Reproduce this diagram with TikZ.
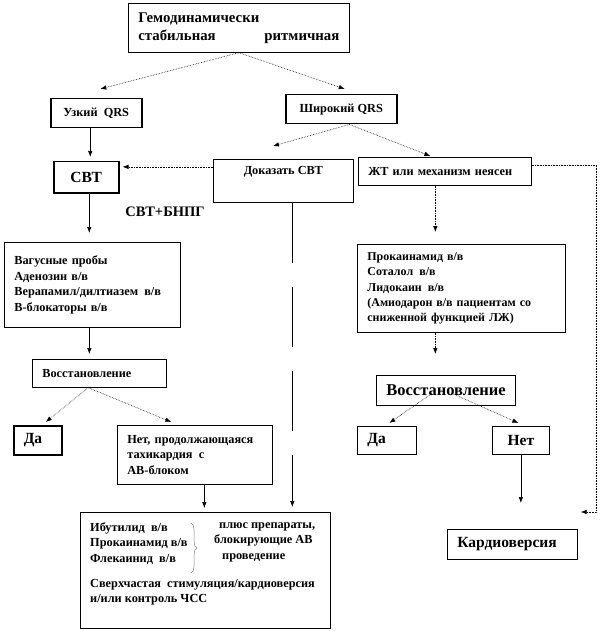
\documentclass[tikz,border=0pt]{standalone}
\usepackage{fontspec}
\setmainfont{Liberation Serif}
\usetikzlibrary{arrows.meta,decorations.pathreplacing}
\newcommand\smallsz{\fontsize{12.3}{15.5}\selectfont}
\newcommand\bigsz{\fontsize{15.5}{18}\selectfont}
\begin{document}
\begin{tikzpicture}[x=1pt, y=-1pt,
    every node/.style={font=\bfseries\smallsz, inner sep=0pt},
    box/.style={draw, line width=0.7pt, anchor=north west, align=left, inner xsep=10pt},
    thickbox/.style={box, line width=1.5pt},
    link/.style={-{Latex[length=6pt,width=4.5pt]}, line width=0.6pt},
    dotlink/.style={link, densely dotted}]
  \useasboundingbox (0,0) rectangle (599,631);
  % top of the chart
  \node[box, minimum width=221pt, minimum height=49pt, text width=201pt,
    font=\bfseries\fontsize{14.8}{18}\selectfont]
    (top) at (128,3) {Гемодинамически\\стабильная\hfill ритмичная};
  \node[thickbox, minimum width=91pt, minimum height=29pt, align=center]
    (narrow) at (50,98) {Узкий\enspace QRS};
  \node[thickbox, minimum width=111pt, minimum height=29pt, align=center]
    (wide) at (285,94) {Широкий QRS};
  % narrow QRS branch
  \node[thickbox, minimum width=65pt, minimum height=31pt, align=center,
    font=\bfseries\bigsz] (svt) at (53,161) {СВТ};
  \node[font=\bfseries\fontsize{14.5}{16}\selectfont] (svtbb) at (165,212) {СВТ+БНПГ};
  \node[box, minimum width=176pt, minimum height=85pt, text width=156pt]
    (vagal) at (4,242) {Вагусные пробы\\Аденозин в/в\\Верапамил/дилтиазем\enspace в/в\\B-блокаторы в/в\\[4pt]};
  \node[box, minimum width=134pt, minimum height=28pt, text width=114pt]
    (rec1) at (32,359) {Восстановление};
  \node[thickbox, minimum width=48pt, minimum height=29pt, text width=28pt,
    font=\bfseries\bigsz] (yes1) at (13,425) {Да};
  \node[box, minimum width=155pt, minimum height=59pt, text width=135pt]
    (no1) at (117,425) {Нет, продолжающаяся\\тахикардия\enspace с\\АВ-блоком};
  % wide QRS branch
  \node[box, minimum width=140pt, minimum height=43pt, align=center]
    (prove) at (213,159) {Доказать СВТ\\[6pt]};
  \node[box, minimum width=173pt, minimum height=28pt, text width=153pt]
    (vt) at (358,157) {ЖТ или механизм неясен};
  \node[box, minimum width=208pt, minimum height=88pt, text width=188pt,
    font=\bfseries\fontsize{12}{15.3}\selectfont]
    (vtdrugs) at (357,244) {Прокаинамид в/в\\Соталол\enspace в/в\\Лидокаин\enspace в/в\\(Амиодарон в/в пациентам со\\сниженной функцией ЛЖ)};
  \node[box, minimum width=137pt, minimum height=30pt, align=center,
    font=\bfseries\fontsize{16.5}{18}\selectfont] (rec2) at (376,375) {Восстановление};
  \node[box, minimum width=59pt, minimum height=28pt, text width=39pt,
    font=\bfseries\bigsz] (yes2) at (357,426) {Да};
  \node[box, minimum width=57pt, minimum height=28pt, align=center,
    font=\bfseries\bigsz] (no2) at (492,426) {Нет};
  \node[box, minimum width=130pt, minimum height=30pt, text width=110pt,
    font=\bfseries\bigsz] (cardio) at (447,529) {Кардиоверсия};
  % bottom box
  \node[box, minimum width=250pt, minimum height=116pt] (final) at (80,512) {};
  \node[anchor=north west, align=left] (ficdrugs) at (90,522)
    {Ибутилид\enspace в/в\\Прокаинамид в/в\\Флекаинид\enspace в/в};
  \node[anchor=north west, align=left] (ficplus) at (214,522)
    {\hspace{5pt}плюс препараты,\\блокирующие АВ\\\hspace{8pt}проведение};
  \node[anchor=north west, align=left] (ficpace) at (90,579)
    {Сверхчастая\enspace стимуляция/кардиоверсия\\и/или контроль ЧСС};
  \draw[decorate, decoration={brace, amplitude=6pt}, gray, line width=0.5pt]
    ([xshift=111pt,yshift=-11pt]final.north west) -- ([xshift=111pt,yshift=-61pt]final.north west);
  \coordinate (cvin) at ([xshift=3pt,yshift=17pt]cardio.north east);
  % connectors
  \draw[dotlink] (top.south) -- ([xshift=4pt,yshift=9pt]narrow.north);
  \draw[dotlink] (top.south) -- ([xshift=3.5pt,yshift=5pt]wide.north);
  \draw[link, shorten >=4pt] ([xshift=-6pt]narrow.south) -- ([xshift=-6pt]narrow.south |- svt.north);
  \draw[dotlink] ([xshift=8pt]wide.south) -- ([xshift=60pt,yshift=13pt]prove.north west);
  \draw[dotlink] ([xshift=8pt]wide.south) -- ([xshift=-14.5pt,yshift=1pt]vt.north);
  \draw[dotlink, shorten >=3pt] ([yshift=14pt]prove.west) -- ([yshift=14pt]prove.west -| svt.east);
  \draw[link, shorten >=9pt] ([xshift=3pt]svt.south) -- ([xshift=3pt]svt.south |- vagal.north);
  \draw[link, shorten >=5pt] ([xshift=-3pt]vagal.south) -- ([xshift=-3pt]vagal.south |- rec1.north);
  \draw[dotlink] ([xshift=-11pt]rec1.south) -- ([xshift=8pt,yshift=3pt]yes1.north);
  \draw[dotlink] ([xshift=-11pt]rec1.south) -- ([xshift=-23.5pt,yshift=3pt]no1.north);
  \draw[link, shorten >=4pt] ([xshift=9.5pt]no1.south) -- ([xshift=9.5pt]no1.south |- final.north);
  \draw[link, dash pattern=on 60pt off 24pt, shorten >=5pt] ([xshift=9pt]prove.south) -- ([xshift=9pt]prove.south |- final.north);
  \draw[dotlink, shorten >=12pt] ([xshift=-9.5pt]vt.south) -- ([xshift=-9.5pt]vt.south |- vtdrugs.north);
  \draw[dotlink, shorten >=21pt] ([xshift=-26pt]vtdrugs.south) -- ([xshift=-26pt]vtdrugs.south |- rec2.north);
  \draw[dotlink] ([xshift=-14pt,yshift=-3pt]rec2.center) -- ([xshift=2.5pt,yshift=3pt]yes2.north);
  \draw[dotlink] ([xshift=6pt,yshift=-3pt]rec2.center) -- ([xshift=-2.5pt,yshift=3pt]no2.north);
  \draw[link, shorten >=26pt] (no2.south) -- (no2.south |- cardio.north);
  \draw[dotlink] ([yshift=6pt]vt.east) -- ++(65,0) |- (cvin);
\end{tikzpicture}
\end{document}
